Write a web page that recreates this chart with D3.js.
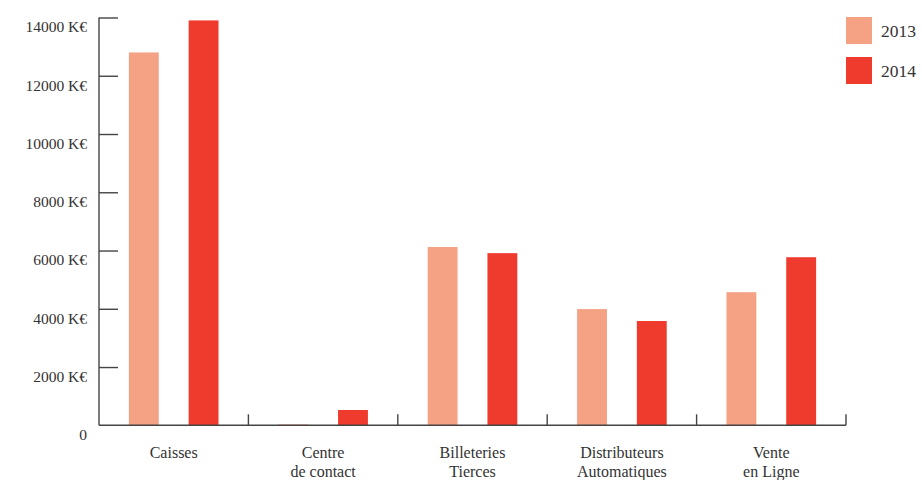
<!DOCTYPE html>
<html><head><meta charset="utf-8">
<script src="https://cdn.jsdelivr.net/npm/d3@7/dist/d3.min.js"></script>
<style>body{margin:0;background:#fff}svg{display:block}</style>
</head><body>
<svg id="c" width="922" height="480"></svg>
<script>
const categories = [["Caisses"],["Centre","de contact"],["Billeteries","Tierces"],["Distributeurs","Automatiques"],["Vente","en Ligne"]];
const series = ["2013","2014"];
const values2013 = [12800, 30, 6120, 3990, 4570];
const values2014 = [13900, 525, 5910, 3580, 5770];
const yTicks = [0,2000,4000,6000,8000,10000,12000,14000];
const colors = ["#F5A184","#EF3B2D"];

const svg = d3.select("#c");
const font = "'Liberation Serif','DejaVu Serif',serif";
const axisColor = "#444";
const x0 = 99, x1 = 846, yBase = 425.3, yTop = 17.5;
const x = d3.scaleBand().domain(d3.range(categories.length)).range([x0,x1]).padding(0);
const y = d3.scaleLinear().domain([0,14000]).range([yBase,yTop]);
const xs = d3.scaleBand().domain(series).range([0.2,0.8]).paddingInner(0.5).paddingOuter(0);

const data = [values2013, values2014];
series.forEach((s,si)=>{
  svg.append("g").selectAll("rect").data(data[si]).join("rect")
    .attr("x",(d,i)=>x(i)+xs(s)*x.bandwidth())
    .attr("width",xs.bandwidth()*x.bandwidth())
    .attr("y",d=>y(d))
    .attr("height",d=>yBase-y(d))
    .attr("fill",colors[si]);
});

// y axis
const ya = svg.append("g").attr("transform",`translate(${x0},0)`)
  .call(d3.axisLeft(y).tickValues(yTicks.filter(d=>d>0)).tickSize(-19).tickPadding(12)
    .tickFormat(d=>d+" K€"));
ya.select(".domain").attr("d",`M0,${yTop}V${yBase}`);
ya.selectAll("line,path").attr("stroke",axisColor).attr("stroke-width",1.4);
ya.selectAll("text").attr("font-family",font).attr("font-size",15.5).attr("fill","#333").attr("dy","0.92em");
svg.append("text").attr("x",x0-12).attr("y",y(0)).attr("dy","0.92em").attr("text-anchor","end")
  .attr("font-family",font).attr("font-size",15.5).attr("fill","#333").text(yTicks[0]);

// x axis
svg.append("line").attr("x1",x0).attr("x2",x1).attr("y1",yBase).attr("y2",yBase)
  .attr("stroke",axisColor).attr("stroke-width",1.4);
svg.append("g").selectAll("line").data(d3.range(1,categories.length+1)).join("line")
  .attr("x1",i=>i<categories.length?x(i):x1).attr("x2",i=>i<categories.length?x(i):x1)
  .attr("y1",yBase).attr("y2",yBase-11).attr("stroke",axisColor).attr("stroke-width",1.4);

const cl = svg.append("g").selectAll("text").data(categories).join("text")
  .attr("x",(d,i)=>x(i)+x.bandwidth()/2).attr("y",458)
  .attr("text-anchor","middle").attr("font-family",font).attr("font-size",16).attr("fill","#333");
cl.selectAll("tspan").data(d=>d).join("tspan")
  .attr("x",function(){return this.parentNode.getAttribute("x");})
  .attr("dy",(d,i)=>i===0?0:19).text(d=>d);

// legend
const lg = svg.append("g").selectAll("g").data(series).join("g")
  .attr("transform",(d,i)=>`translate(846,${17+i*40})`);
lg.append("rect").attr("width",26).attr("height",27).attr("fill",(d,i)=>colors[i]);
lg.append("text").attr("x",35).attr("y",14).attr("dy","0.36em")
  .attr("font-family",font).attr("font-size",17.5).attr("fill","#333").text(d=>d);
</script>
</body></html>
